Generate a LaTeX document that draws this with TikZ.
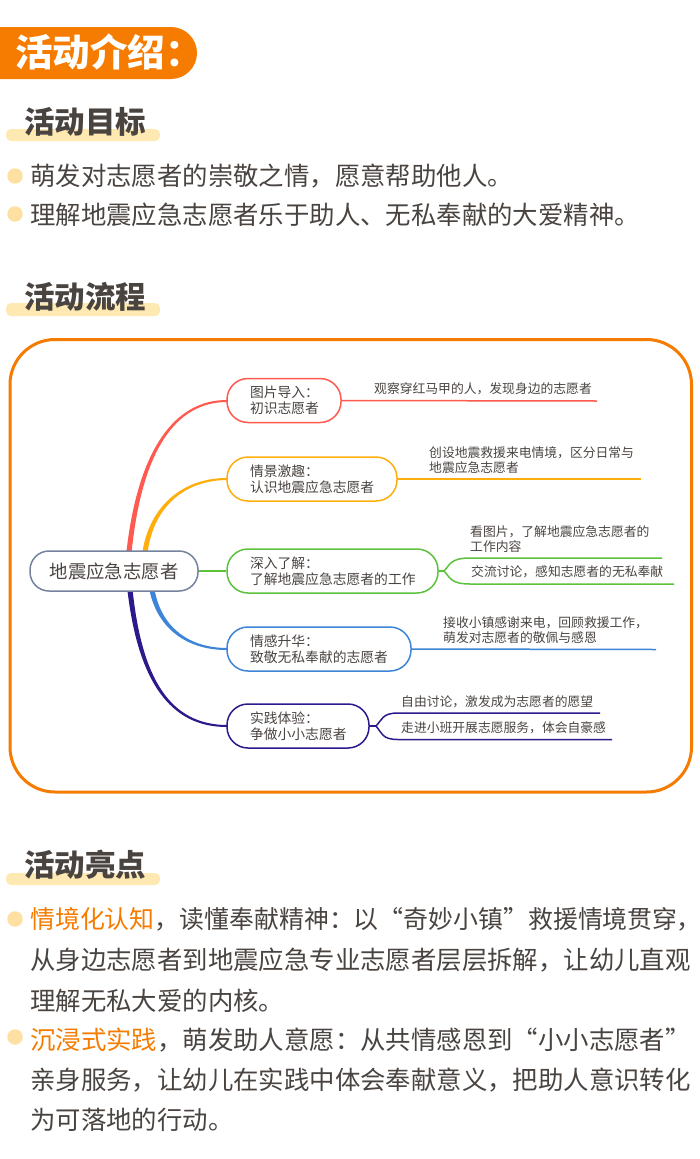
\documentclass[tikz,border=0pt]{standalone}
\usepackage{fontspec}
\setmainfont{Noto Sans CJK SC}
\newfontfamily\halfpunct[RawFeature=+palt]{Noto Sans CJK SC}
\usetikzlibrary{calc}
\definecolor{org}{HTML}{F57C00}
\definecolor{hl}{HTML}{FFE9B3}
\definecolor{dot}{HTML}{FFE0A3}
\definecolor{txt}{HTML}{4A4441}
\definecolor{cred}{HTML}{FF5A4F}
\definecolor{cyel}{HTML}{FFAE0D}
\definecolor{cgrn}{HTML}{5CC23C}
\definecolor{cblu}{HTML}{3D85D8}
\definecolor{cnvy}{HTML}{2A1A8C}
\definecolor{cgry}{HTML}{75839E}
\newcommand{\fs}[2]{\fontsize{#1}{#2}\selectfont}
% colour, root, control 1, control 2, end, sign (1 rising, -1 falling)
\newcommand{\taper}[6]{%
  \fill[#1] ($(#2)+(-2.6,0)$) .. controls ($(#3)+(-1.9,{-1.3*#6})$) and ($(#4)+(0,{-1.2*#6})$) .. ($(#5)+(0,{-1*#6})$)
   -- ($(#5)+(0,{1*#6})$) .. controls ($(#4)+(0,{1.2*#6})$) and ($(#3)+(1.9,{1.3*#6})$) .. ($(#2)+(2.6,0)$) -- cycle;}
\tikzset{
  x=1pt,y=-1pt,
  body/.style={anchor=west,inner sep=0,text=txt,font=\fs{25.4}{28}},
  head/.style={anchor=west,inner sep=0,text=txt,font=\fs{30.5}{32}\bfseries},
  under/.style={fill=hl,rounded corners=5pt},
  bullet/.style={circle,fill=dot,inner sep=0,minimum size=15.5pt},
  topic/.style={draw=#1,line width=1.5pt,fill=white,rounded corners=21pt,inner sep=0,minimum height=44pt,align=left,text=txt,font=\fs{13.8}{15.6}},
  leaf/.style={anchor=west,inner sep=0,align=left,text=txt,font=\fs{12.8}{14.5}},
  wire/.style={draw=#1,line width=1.5pt},
}
\begin{document}
\begin{tikzpicture}
\useasboundingbox (0,0) rectangle (700,1159);
\fill[white] (0,0) rectangle (700,1159);
% title
\fill[org] (0,27) -- (171,27) arc[start angle=90,end angle=-90,radius=26pt] -- (0,79) -- cycle;
\node[anchor=west,inner sep=0,text=white,font=\fs{37.5}{38}\bfseries] (title) at (15,52) {活动介绍：};
% headings
\fill[under] (6,129) rectangle (160,141);
\node[head] (h1) at (24,122) {活动目标};
\node[bullet] (b1) at (15,176) {};
\node[body] (t1) at (30,176) {萌发对志愿者的崇敬之情，愿意帮助他人。};
\node[bullet] (b2) at (15,214) {};
\node[body] (t2) at (30,215) {理解地震应急志愿者乐于助人、无私奉献的大爱精神。};
\fill[under] (6,303) rectangle (160,316);
\node[head] (h2) at (24,297) {活动流程};
% frame
\draw[org,line width=3pt,rounded corners=45pt] (10,339.5) rectangle (691.5,792);
% center + topics
\coordinate (r1) at (129,552);
\coordinate (r2) at (145,552);
\coordinate (r4) at (152,590);
\coordinate (r5) at (130,590);
\taper{cred}{r1}{140,450}{175,401}{227,401}{1}
\taper{cyel}{r2}{152,505}{185,479}{227,479}{1}
\taper{cblu}{r4}{160,630}{190,649}{227,649}{-1}
\taper{cnvy}{r5}{140,680}{170,726}{227,726}{-1}
\node[draw=cgry,line width=1.5pt,fill=white,rounded corners=19pt,inner sep=0,minimum width=168pt,minimum height=40pt,text=txt,font=\fs{18.4}{20}] (c) at (114,571) {地震应急志愿者};
\node[topic=cred,minimum width=114pt,text width=68pt] (n1) at (284,400.5) {图片导入：\\初识志愿者};
\node[topic=cyel,minimum width=170pt,text width=124pt] (n2) at (312,479) {情景激趣：\\认识地震应急志愿者};
\node[topic=cgrn,minimum width=211pt,text width=165pt] (n3) at (332.5,571) {深入了解：\\了解地震应急志愿者的工作};
\node[topic=cblu,minimum width=184pt,text width=138pt] (n4) at (319,649) {情感升华：\\致敬无私奉献的志愿者};
\node[topic=cnvy,minimum width=142pt,text width=96pt] (n5) at (298,726) {实践体验：\\争做小小志愿者};
\draw[cgrn,line width=2.2pt] (c.east) -- (n3.west);
% leaves
\coordinate (e1) at (597,401);
\coordinate (e2) at (641,479);
\coordinate (f3) at (444,571);
\coordinate (a3) at (470,558);
\coordinate (e3a) at (662,558);
\coordinate (b3) at (470,584);
\coordinate (e3b) at (674,584);
\coordinate (e4) at (656,649.5);
\coordinate (f5) at (376,726);
\coordinate (a5) at (398,713);
\coordinate (e5a) at (600,713);
\coordinate (b5) at (398,739.5);
\coordinate (e5b) at (612,739.5);
\draw[wire=cred] (n1.east) -- (e1);
\draw[wire=cyel] (n2.east) -- (e2);
\draw[wire=cblu] (n4.east) -- (e4);
\draw[wire=cgrn] (n3.east) -- (f3);
\draw[wire=cgrn] (f3) .. controls (450,565) and (450,558) .. (a3) -- (e3a);
\draw[wire=cgrn] (f3) .. controls (450,577) and (450,584) .. (b3) -- (e3b);
\draw[wire=cnvy] (n5.east) -- (f5);
\draw[wire=cnvy] (f5) .. controls (382,720) and (382,713) .. (a5) -- (e5a);
\draw[wire=cnvy] (f5) .. controls (382,733) and (382,739.5) .. (b5) -- (e5b);
\node[leaf] (l1) at (374,388.5) {观察穿红马甲的人，发现身边的志愿者};
\node[leaf] (l2) at (429,460) {创设地震救援来电情境，区分日常与\\地震应急志愿者};
\node[leaf] (l3a) at (470,539) {看图片，了解地震应急志愿者的\\工作内容};
\node[leaf] (l3b) at (471,572) {交流讨论，感知志愿者的无私奉献};
\node[leaf] (l4) at (443,630) {接收小镇感谢来电，回顾救援工作，\\萌发对志愿者的敬佩与感恩};
\node[leaf] (l5a) at (401,702) {自由讨论，激发成为志愿者的愿望};
\node[leaf] (l5b) at (401,728) {走进小班开展志愿服务，体会自豪感};
% highlights
\fill[under] (6,873) rectangle (160,885);
\node[head] (h3) at (24,865) {活动亮点};
\node[bullet] (b3d) at (15,919) {};
\node[body,font=\fs{24.9}{28}] (p1) at (30,919) {\textcolor{org}{情境化认知}，读懂奉献精神：以“奇妙小镇”救援情境贯穿{\halfpunct ，}};
\node[body] (p2) at (30,960) {从身边志愿者到地震应急专业志愿者层层拆解，让幼儿直观};
\node[body] (p3) at (30,1001) {理解无私大爱的内核。};
\node[bullet] (b4d) at (15,1037) {};
\node[body] (p4) at (30,1040) {\textcolor{org}{沉浸式实践}，萌发助人意愿：从共情感恩到“小小志愿者”};
\node[body] (p5) at (30,1080) {亲身服务，让幼儿在实践中体会奉献意义，把助人意识转化};
\node[body] (p6) at (30,1120) {为可落地的行动。};
\end{tikzpicture}
\end{document}
